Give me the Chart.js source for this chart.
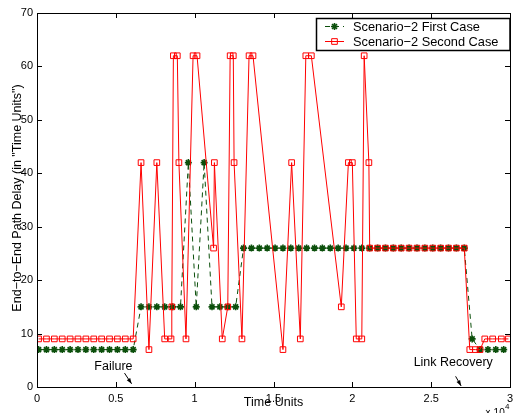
<!DOCTYPE html>
<html lang="en">
<head>
<meta charset="UTF-8" />
<title>End-to-End Path Delay</title>
<style>
  body { margin: 0; background: #fff; }
  canvas { display: block; }
</style>
</head>
<body>
<canvas id="delayChart" width="524" height="413"></canvas>
<script src="https://cdn.jsdelivr.net/npm/chart.js@4"></script>
<script>
// Scenario-2 First Case: sample times and delay
const firstTimes = [100, 600, 1100, 1600, 2100, 2600, 3100, 3600, 4100, 4600, 5100, 5600, 6100,
  6600, 7100, 7600, 8100, 8600, 9100, 9600, 10100, 10600, 11100, 11600, 12100, 12600,
  13100, 13600, 14100, 14600, 15100, 15600, 16100, 16600, 17100, 17600, 18100, 18600, 19100,
  19600, 20100, 20600, 21100, 21600, 22100, 22600, 23100, 23600, 24100, 24600, 25100, 25600,
  26100, 26600, 27100, 27600, 28100, 28600, 29100, 29600];
const firstDelay = [7, 7, 7, 7, 7, 7, 7, 7, 7, 7, 7, 7, 7,
  15, 15, 15, 15, 15, 15, 42, 15, 42, 15, 15, 15, 15,
  26, 26, 26, 26, 26, 26, 26, 26, 26, 26, 26, 26, 26,
  26, 26, 26, 26, 26, 26, 26, 26, 26, 26, 26, 26, 26,
  26, 26, 26, 9, 7, 7, 7, 7];

// Scenario-2 Second Case: sample times and delay
const secondTimes = [100, 600, 1100, 1600, 2100, 2600, 3100, 3600, 4100, 4600, 5100, 5600, 6100,
  6600, 7100, 7600, 8100, 8500, 8550, 8650, 8900, 9000, 9450, 9900, 10150, 11200, 11250,
  11750, 12100, 12250, 12450, 12500, 13000, 13450, 13700, 15600, 16150, 16700, 17050, 17400,
  19300, 19750, 20000, 20250, 20600, 20750, 21050,
  21100, 21600, 22100, 22600, 23100, 23600, 24100, 24600, 25100, 25600, 26100, 26600, 27100,
  27450, 27800, 28100, 28400, 28900, 29450, 29900];
const secondDelay = [9, 9, 9, 9, 9, 9, 9, 9, 9, 9, 9, 9, 9,
  42, 7, 42, 9, 9, 15, 62, 62, 42, 9, 62, 62, 26, 42,
  9, 15, 62, 62, 42, 9, 62, 62, 7, 42, 9, 62, 62,
  15, 42, 42, 9, 9, 62, 42,
  26, 26, 26, 26, 26, 26, 26, 26, 26, 26, 26, 26, 26,
  7, 7, 7, 9, 9, 9, 9];

const seriesNames = ['Scenario\u22122 First Case', 'Scenario\u22122 Second Case'];
const xTickValues = [0, 5000, 10000, 15000, 20000, 25000, 30000];
const xTickLabels = ['0', '0.5', '1', '1.5', '2', '2.5', '3'];
const yTickValues = [0, 10, 20, 30, 40, 50, 60, 70];

const FONT = '"Liberation Sans", Arial, Helvetica, sans-serif';
const GREEN = '#0b4f0b';
const RED = '#ff0000';

function pairs(xs, ys) {
  return xs.map((t, i) => ({ x: t, y: ys[i] }));
}

function arrow(ctx, x0, y0, x1, y1) {
  ctx.beginPath();
  ctx.moveTo(x0, y0);
  ctx.lineTo(x1, y1);
  ctx.stroke();
  const ang = Math.atan2(y1 - y0, x1 - x0);
  ctx.beginPath();
  ctx.moveTo(x1, y1);
  ctx.lineTo(x1 - 6 * Math.cos(ang - 0.35), y1 - 6 * Math.sin(ang - 0.35));
  ctx.lineTo(x1 - 6 * Math.cos(ang + 0.35), y1 - 6 * Math.sin(ang + 0.35));
  ctx.closePath();
  ctx.fill();
}

// box, inward ticks, axis titles, notes and legend, MATLAB style
const matlabFrame = {
  id: 'matlabFrame',
  afterDraw(chart) {
    const { ctx, chartArea: a, scales: { x, y } } = chart;
    ctx.save();
    ctx.strokeStyle = '#000';
    ctx.fillStyle = '#000';
    ctx.lineWidth = 1;
    ctx.strokeRect(a.left + 0.5, a.top + 0.5, a.right - a.left, a.bottom - a.top);

    ctx.beginPath();
    xTickValues.forEach(v => {
      const px = Math.round(x.getPixelForValue(v)) + 0.5;
      ctx.moveTo(px, a.bottom); ctx.lineTo(px, a.bottom - 5);
      ctx.moveTo(px, a.top); ctx.lineTo(px, a.top + 5);
    });
    yTickValues.forEach(v => {
      const py = Math.round(y.getPixelForValue(v)) + 0.5;
      ctx.moveTo(a.left, py); ctx.lineTo(a.left + 5, py);
      ctx.moveTo(a.right, py); ctx.lineTo(a.right - 5, py);
    });
    ctx.stroke();

    // axis titles
    ctx.font = '12.5px ' + FONT;
    ctx.textAlign = 'center';
    ctx.textBaseline = 'middle';
    ctx.fillText('Time Units', (a.left + a.right) / 2, 403);
    ctx.save();
    ctx.translate(18, (a.top + a.bottom) / 2 - 2);
    ctx.rotate(-Math.PI / 2);
    ctx.fillText('End\u2212to\u2212End Path Delay (in "Time Units")', 0, 0);
    ctx.restore();

    // x10^4 multiplier
    ctx.textAlign = 'left';
    ctx.textBaseline = 'top';
    ctx.font = '10px ' + FONT;
    ctx.fillText('\u00d7 10', 485, 408);
    ctx.font = '8px ' + FONT;
    ctx.fillText('4', 505, 403);

    // notes
    ctx.font = '12.5px ' + FONT;
    ctx.textAlign = 'center';
    ctx.textBaseline = 'middle';
    ctx.fillText('Failure', x.getPixelForValue(4850), y.getPixelForValue(3.8));
    ctx.fillText('Link Recovery', x.getPixelForValue(26400), y.getPixelForValue(4.5));
    arrow(ctx, x.getPixelForValue(5550), y.getPixelForValue(2.6), x.getPixelForValue(6000), y.getPixelForValue(0.6));
    arrow(ctx, x.getPixelForValue(26550), y.getPixelForValue(2.0), x.getPixelForValue(26900), y.getPixelForValue(0.2));

    // legend
    const lx = 316.5, ly = 18.5, lw = a.right - 316.5, lh = 32;
    ctx.fillStyle = '#fff';
    ctx.fillRect(lx, ly, lw, lh);
    ctx.lineWidth = 1.5;
    ctx.strokeStyle = '#000';
    ctx.strokeRect(lx, ly, lw, lh);
    chart.data.datasets.forEach((ds, i) => {
      const ry = 26.5 + i * 15;
      ctx.strokeStyle = ds.borderColor;
      ctx.lineWidth = 1;
      ctx.setLineDash(ds.borderDash || []);
      ctx.beginPath();
      ctx.moveTo(325, ry); ctx.lineTo(344, ry);
      ctx.stroke();
      ctx.setLineDash([]);
      ctx.fillStyle = ds.pointBackgroundColor;
      ctx.strokeStyle = ds.pointBorderColor;
      ctx.lineWidth = ds.pointBorderWidth;
      Chart.helpers.drawPoint(ctx, {
        pointStyle: ds.pointStyle, radius: ds.pointRadius, borderWidth: ds.pointBorderWidth
      }, 334.5, ry);
      ctx.fillStyle = '#000';
      ctx.font = '12.8px ' + FONT;
      ctx.textAlign = 'left';
      ctx.textBaseline = 'middle';
      ctx.fillText(ds.label, 353, ry + 0.5);
    });
    ctx.restore();
  }
};

Chart.defaults.font.family = FONT;
Chart.defaults.color = '#000';

new Chart(document.getElementById('delayChart'), {
  type: 'line',
  data: {
    datasets: [
      {
        label: seriesNames[0],
        data: pairs(firstTimes, firstDelay),
        borderColor: GREEN,
        borderWidth: 1,
        borderDash: [5, 4],
        pointStyle: 'star',
        pointRadius: 3.5,
        pointBorderWidth: 1.6,
        pointBorderColor: GREEN,
        pointBackgroundColor: GREEN,
        fill: false,
        tension: 0,
        order: 2
      },
      {
        label: seriesNames[1],
        data: pairs(secondTimes, secondDelay),
        borderColor: RED,
        borderWidth: 1,
        pointStyle: 'rect',
        pointRadius: 4,
        pointBorderWidth: 1,
        pointBorderColor: RED,
        pointBackgroundColor: 'rgba(0,0,0,0)',
        fill: false,
        tension: 0,
        order: 1
      }
    ]
  },
  options: {
    responsive: false,
    animation: false,
    layout: { padding: { left: 0, right: 14, top: 13, bottom: 0 } },
    plugins: {
      legend: { display: false },
      tooltip: { enabled: false }
    },
    scales: {
      x: {
        type: 'linear',
        min: 0,
        max: 30000,
        grid: { display: false, drawTicks: false },
        border: { display: false },
        afterFit: s => { s.height = 26; },
        afterBuildTicks: s => { s.ticks = xTickValues.map(v => ({ value: v })); },
        ticks: {
          padding: 5,
          font: { size: 11 },
          maxRotation: 0,
          callback: (v) => xTickLabels[xTickValues.indexOf(v)]
        }
      },
      y: {
        min: 0,
        max: 70,
        grid: { display: false, drawTicks: false },
        border: { display: false },
        afterFit: s => { s.width = 37; },
        afterBuildTicks: s => { s.ticks = yTickValues.map(v => ({ value: v })); },
        ticks: { padding: 4, font: { size: 11 } }
      }
    }
  },
  plugins: [matlabFrame]
});
</script>
</body>
</html>
